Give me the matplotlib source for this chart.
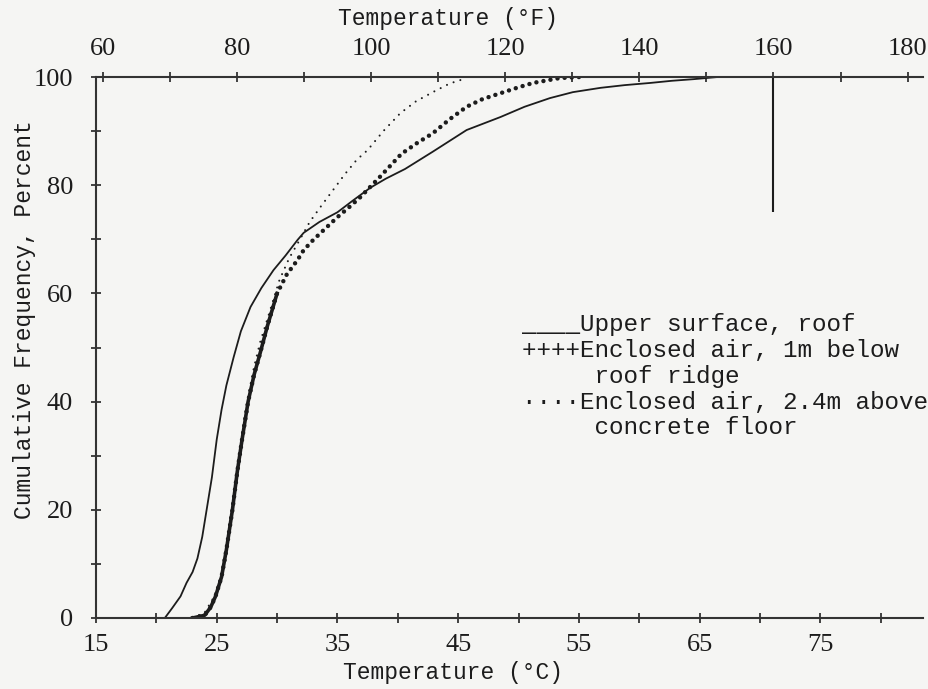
import matplotlib.pyplot as plt
from matplotlib.ticker import MultipleLocator

# cumulative frequency (%) vs temperature (deg C)
roof_temp_c = [20.7, 21.3, 22.0, 22.5, 23.0, 23.4, 23.8, 24.2, 24.6, 25.0, 25.4, 25.8,
               26.4, 27.0, 27.8, 28.7, 29.7, 30.7, 31.7, 32.2, 33.5, 35.0, 36.3, 37.7,
               39.0, 40.6, 42.9, 45.7, 48.5, 50.5, 52.6, 54.5, 56.8, 58.8, 60.9, 62.7,
               64.5, 66.5, 71.1]
roof_cum = [0, 1.8, 4, 6.5, 8.5, 11, 15, 20.5, 26, 33, 38.5, 43,
            48.2, 53, 57.5, 61, 64.3, 67, 69.9, 71.2, 73.2, 75, 77.2, 79.5,
            81.2, 83, 86.2, 90.2, 92.6, 94.5, 96.1, 97.2, 98, 98.5, 98.9, 99.3,
            99.6, 100, 100]

ridge_temp_c = [23.0, 24.0, 24.5, 24.9, 25.4, 25.8, 26.3, 26.7, 27.1, 27.6, 28.1, 28.6,
                29.2, 30.0, 30.8, 31.7, 32.2, 33.0, 34.0, 35.0, 36.0, 36.9, 38.5, 40.3,
                41.6, 42.9, 44.3, 45.7, 47.0, 48.5, 50.0, 51.2, 53.4, 55.1]
ridge_cum = [0, 0.5, 2, 4, 7.6, 12.6, 20, 27, 33, 40, 45, 49,
             54, 60, 63.5, 66.2, 68, 69.9, 72, 74.1, 76, 77.8, 81.5, 85.8,
             87.8, 89.6, 92.2, 94.5, 95.9, 97, 98.1, 98.9, 99.8, 100]

floor_temp_c = [23.0, 24.0, 24.8, 25.4, 25.8, 26.3, 26.7, 27.1, 27.6, 28.1, 28.6, 29.3,
                30.2, 31.0, 31.9, 32.7, 33.6, 34.6, 35.6, 36.6, 37.5, 38.8, 40.2, 41.5,
                42.9, 44.3, 45.7]
floor_cum = [0, 1, 4, 8, 13, 20.5, 28, 34, 41, 46.5, 51, 56,
             62.5, 66.5, 70, 73.2, 76, 79, 82, 84.7, 86.5, 90, 93.3, 95.5,
             97.2, 98.8, 99.8]

roof_max_c = 71.1          # 160 F marker
roof_max_range = [75, 100]

legend_lines = ["____Upper surface, roof",
                "++++Enclosed air, 1m below",
                "     roof ridge",
                "····Enclosed air, 2.4m above",
                "     concrete floor"]

ink = '#1c1c1c'
paper = '#f5f5f3'
W, H = 929, 689

fig = plt.figure(figsize=(9.29, 6.89), dpi=100, facecolor=paper)
ax = fig.add_axes([96 / W, 1 - 618 / H, (923 - 96) / W, (618 - 77) / H])
ax.set_facecolor(paper)

ax.plot(roof_temp_c, roof_cum, color=ink, lw=1.3)
ax.vlines(roof_max_c, roof_max_range[0], roof_max_range[1], color=ink, lw=1.5)
# the plus marks merge into a heavy line where the curve is steep
steep = 14
ax.plot(ridge_temp_c[:steep], ridge_cum[:steep], color=ink, lw=2.6)
ax.plot(ridge_temp_c, ridge_cum, color=ink, lw=3.2,
        linestyle=(0, (0.01, 1.6)), dash_capstyle='round')
ax.plot(floor_temp_c, floor_cum, color=ink, lw=1.5,
        linestyle=(0, (0.01, 3.4)), dash_capstyle='round')

ax.set_xlim(15, 83.5)
ax.set_ylim(0, 100)
ax.xaxis.set_minor_locator(MultipleLocator(5))
ax.set_xticks(range(15, 80, 10))
ax.yaxis.set_major_locator(MultipleLocator(20))
ax.yaxis.set_minor_locator(MultipleLocator(10))

ax.spines['right'].set_visible(False)
for s in ['left', 'bottom', 'top']:
    ax.spines[s].set_color('#333333')
    ax.spines[s].set_linewidth(1.5)

tick_family, tick_size = 'Liberation Serif', 19
ax.tick_params(axis='both', which='both', direction='inout', length=7,
               width=1.3, color='#333333', top=False)
ax.tick_params(axis='x', pad=8)
ax.tick_params(axis='y', pad=13)
for lab in ax.get_xticklabels() + ax.get_yticklabels():
    lab.set_fontfamily(tick_family)
    lab.set_fontsize(tick_size)
    lab.set_color(ink)

top = ax.secondary_xaxis('top', functions=(lambda c: c * 9 / 5 + 32,
                                           lambda f: (f - 32) * 5 / 9))
top.set_xticks(range(60, 181, 20))
top.xaxis.set_minor_locator(MultipleLocator(10))
top.spines['top'].set_visible(False)
top.tick_params(axis='x', which='both', direction='inout', length=7,
                width=1.3, color='#333333', pad=9)
for lab in top.get_xticklabels():
    lab.set_fontfamily(tick_family)
    lab.set_fontsize(tick_size)
    lab.set_color(ink)

mono = 'Liberation Mono'
fig.text(448 / W, 1 - 18 / H, "Temperature (°F)", family=mono, size=16.5,
         color=ink, ha='center', va='center')
fig.text(453 / W, 1 - 672 / H, "Temperature (°C)", family=mono, size=16.5,
         color=ink, ha='center', va='center')
fig.text(25 / W, 1 - 320 / H, "Cumulative Frequency, Percent", family=mono,
         size=16.5, color=ink, ha='center', va='center', rotation=90)

for i, line in enumerate(legend_lines):
    y = 325 + i * 25.7
    fig.text(522 / W, 1 - y / H, line, family=mono, size=17.5, color=ink,
             ha='left', va='center')

fig.savefig('out.png', dpi=100, facecolor=paper)
